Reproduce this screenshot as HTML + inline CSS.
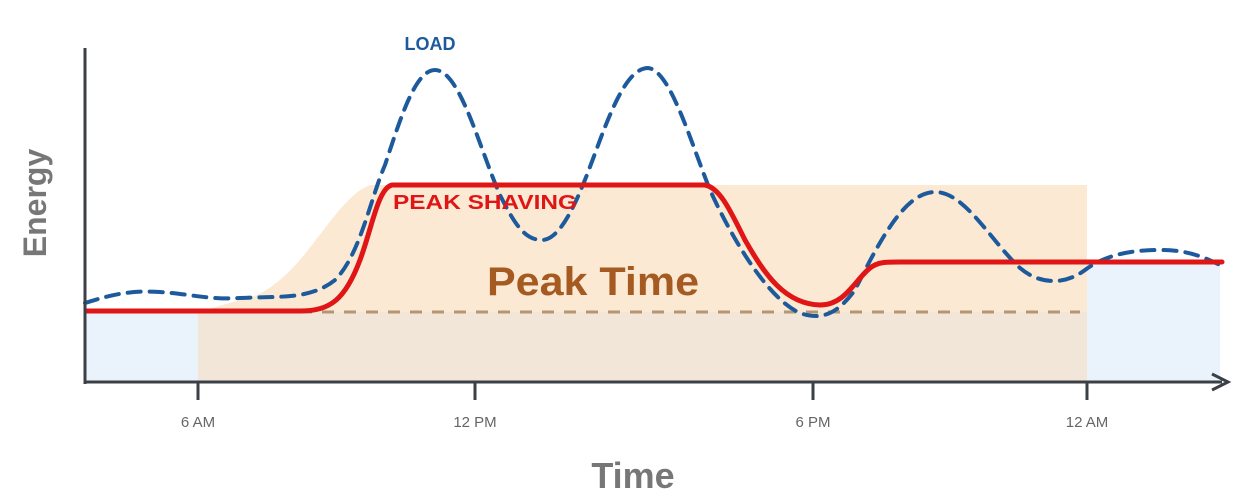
<!DOCTYPE html>
<html><head><style>body{margin:0;background:#fff}svg{display:block}</style></head><body>
<svg width="1248" height="498" viewBox="0 0 1248 498" xmlns="http://www.w3.org/2000/svg" font-family="Liberation Sans, sans-serif">
<rect x="86" y="310" width="112" height="72" fill="#eaf3fb"/>
<rect x="1087" y="262" width="133" height="120" fill="#eaf3fb"/>
<path d="M198,382 L198,312 L240,300 C300,290 330,200 370,185 L1087,185 L1087,382 Z" fill="#fbe9d3"/>
<rect x="198" y="312" width="889" height="70" fill="#f1e6d8"/>
<line x1="300" y1="312" x2="1080" y2="312" stroke="#b59572" stroke-width="3" stroke-dasharray="12,10"/>
<path d="M85,303 C110,295 130,290 160,292 C190,294 210,300 240,298 C280,296 310,300 335,280 C360,255 370,200 385,165 C400,120 415,70 435,70 C460,70 480,150 500,195 C515,225 525,240 542,240 C565,240 585,180 600,140 C615,100 630,68 648,68 C670,70 690,140 710,190 C735,245 770,300 800,313 C825,322 840,310 855,290 C880,240 905,192 935,192 C965,192 990,240 1020,268 C1040,285 1065,285 1085,270 C1105,255 1130,250 1160,250 C1190,250 1205,258 1220,265" fill="none" stroke="#1d5a9c" stroke-width="4" stroke-dasharray="13,9" stroke-linecap="round"/>
<path d="M86,311 L300,311 C330,311 345,300 360,260 C372,228 378,188 392,185 L705,185 C720,188 730,210 745,240 C765,275 785,304 820,305 C845,305 855,280 870,268 C878,262 885,262 900,262 L1222,262" fill="none" stroke="#e01515" stroke-width="5" stroke-linecap="round" stroke-linejoin="round"/>
<line x1="85" y1="48" x2="85" y2="384" stroke="#3b3f46" stroke-width="3"/>
<line x1="84" y1="382" x2="1222" y2="382" stroke="#3b3f46" stroke-width="3"/>
<path d="M1212,374 L1228,382 L1212,390" fill="none" stroke="#3b3f46" stroke-width="3"/>
<g stroke="#3b3f46" stroke-width="3"><line x1="198" y1="382" x2="198" y2="400"/><line x1="475" y1="382" x2="475" y2="400"/><line x1="813" y1="382" x2="813" y2="400"/><line x1="1087" y1="382" x2="1087" y2="400"/></g>
<g font-size="15" fill="#666" text-anchor="middle"><text x="198" y="427">6 AM</text><text x="475" y="427">12 PM</text><text x="813" y="427">6 PM</text><text x="1087" y="427">12 AM</text></g>
<text x="430" y="50" font-size="18" font-weight="bold" fill="#1d5a9c" text-anchor="middle">LOAD</text>
<text x="393" y="209" font-size="20" font-weight="bold" fill="#e01515" textLength="184" lengthAdjust="spacingAndGlyphs">PEAK SHAVING</text>
<text x="487" y="295" font-size="40" font-weight="bold" fill="#a55a22" textLength="212" lengthAdjust="spacingAndGlyphs">Peak Time</text>
<text x="633" y="488" font-size="36" font-weight="bold" fill="#777" text-anchor="middle">Time</text>
<text transform="translate(46,203) rotate(-90)" font-size="32" font-weight="bold" fill="#777" text-anchor="middle">Energy</text>
</svg>
</body></html>
